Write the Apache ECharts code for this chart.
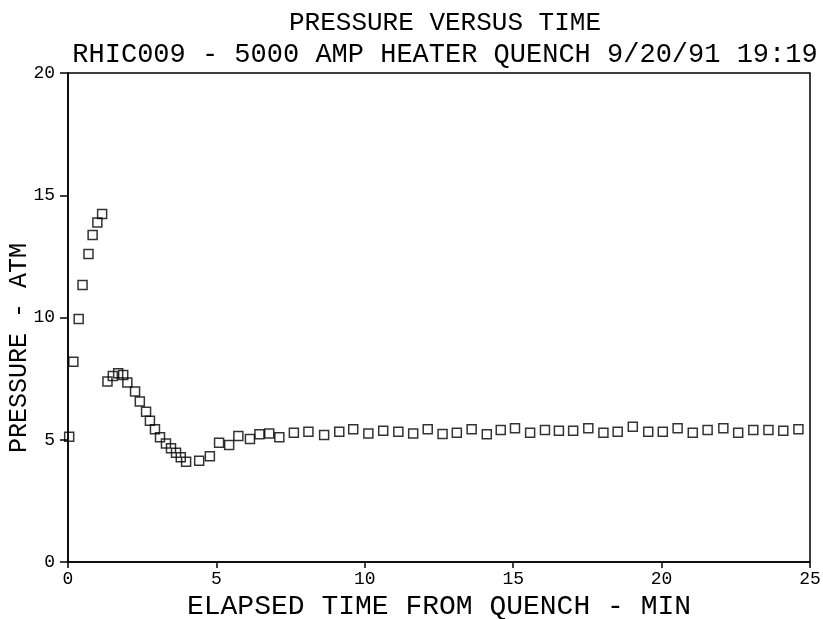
<!DOCTYPE html>
<html>
<head>
<meta charset="utf-8">
<script src="https://cdn.jsdelivr.net/npm/echarts@6/dist/echarts.min.js"></script>
<style>html,body{margin:0;padding:0;background:#fff}#c{width:823px;height:619px}</style>
</head>
<body>
<div id="c"></div>
<script>
const timeMin = [0.04,0.18,0.36,0.49,0.69,0.83,0.99,1.15,1.33,1.51,1.69,1.86,2.00,2.26,2.42,2.63,2.76,2.93,3.10,3.30,3.47,3.64,3.80,3.98,4.42,4.78,5.09,5.43,5.74,6.13,6.45,6.78,7.12,7.61,8.10,8.63,9.14,9.61,10.12,10.62,11.13,11.63,12.12,12.62,13.10,13.60,14.11,14.58,15.06,15.57,16.07,16.54,17.02,17.53,18.04,18.52,19.03,19.55,20.04,20.54,21.05,21.55,22.08,22.58,23.09,23.60,24.10,24.61];
const pressureAtm = [5.12,8.19,9.94,11.33,12.60,13.37,13.89,14.23,7.38,7.61,7.72,7.65,7.34,6.97,6.56,6.15,5.78,5.43,5.10,4.85,4.65,4.47,4.28,4.10,4.14,4.33,4.88,4.79,5.15,5.03,5.22,5.26,5.10,5.29,5.33,5.19,5.33,5.43,5.26,5.37,5.33,5.26,5.43,5.24,5.29,5.43,5.22,5.40,5.47,5.29,5.40,5.37,5.37,5.47,5.29,5.33,5.53,5.33,5.33,5.47,5.29,5.40,5.47,5.29,5.40,5.40,5.37,5.43];
const titleText = 'PRESSURE VERSUS TIME';
const subtitleText = 'RHIC009 - 5000 AMP HEATER QUENCH 9/20/91 19:19';
const xAxisName = 'ELAPSED TIME FROM QUENCH - MIN';
const yAxisName = 'PRESSURE - ATM';

const FONT = '"Liberation Mono", "DejaVu Sans Mono", monospace';
const chart = echarts.init(document.getElementById('c'));
chart.setOption({
  animation: false,
  backgroundColor: '#fff',
  title: [
    {text: titleText, left: 440, top: 5, textAlign: 'center',
     textStyle: {fontFamily: FONT, fontSize: 26, fontWeight: 'normal', color: '#000'}},
    {text: subtitleText, left: 440, top: 36, textAlign: 'center',
     textStyle: {fontFamily: FONT, fontSize: 27, fontWeight: 'normal', color: '#000'}}
  ],
  grid: {left: 68, right: 13, top: 73, bottom: 57, containLabel: false, outerBoundsMode: 'none',
         show: true, borderColor: '#000', borderWidth: 1.5, backgroundColor: 'transparent'},
  xAxis: {
    type: 'value', min: 0, max: 25, interval: 5,
    name: xAxisName, nameLocation: 'middle', nameGap: 31,
    nameTextStyle: {fontFamily: FONT, fontSize: 28, color: '#000'},
    axisLine: {show: true, lineStyle: {color: '#000', width: 1.5}},
    axisTick: {show: true, inside: false, length: 6, lineStyle: {color: '#000', width: 1.5}},
    axisLabel: {fontFamily: FONT, fontSize: 18, color: '#000', margin: 8},
    splitLine: {show: false}
  },
  yAxis: {
    type: 'value', min: 0, max: 20, interval: 5,
    axisLine: {show: true, lineStyle: {color: '#000', width: 1.5}},
    axisTick: {show: true, inside: false, length: 8, lineStyle: {color: '#000', width: 1.5}},
    axisLabel: {fontFamily: FONT, fontSize: 18, color: '#000', margin: 13},
    splitLine: {show: false}
  },
  graphic: [{
    type: 'text', x: 19, y: 348, rotation: Math.PI / 2,
    style: {text: yAxisName, fontFamily: FONT, fontSize: 25, fill: '#000', align: 'center', verticalAlign: 'middle'}
  }],
  series: [{
    type: 'scatter',
    data: timeMin.map((t, i) => [t, pressureAtm[i]]),
    symbol: 'rect', symbolSize: 9,
    itemStyle: {color: 'rgba(0,0,0,0)', borderColor: '#000', borderWidth: 1.5}
  }]
});
</script>
</body>
</html>
